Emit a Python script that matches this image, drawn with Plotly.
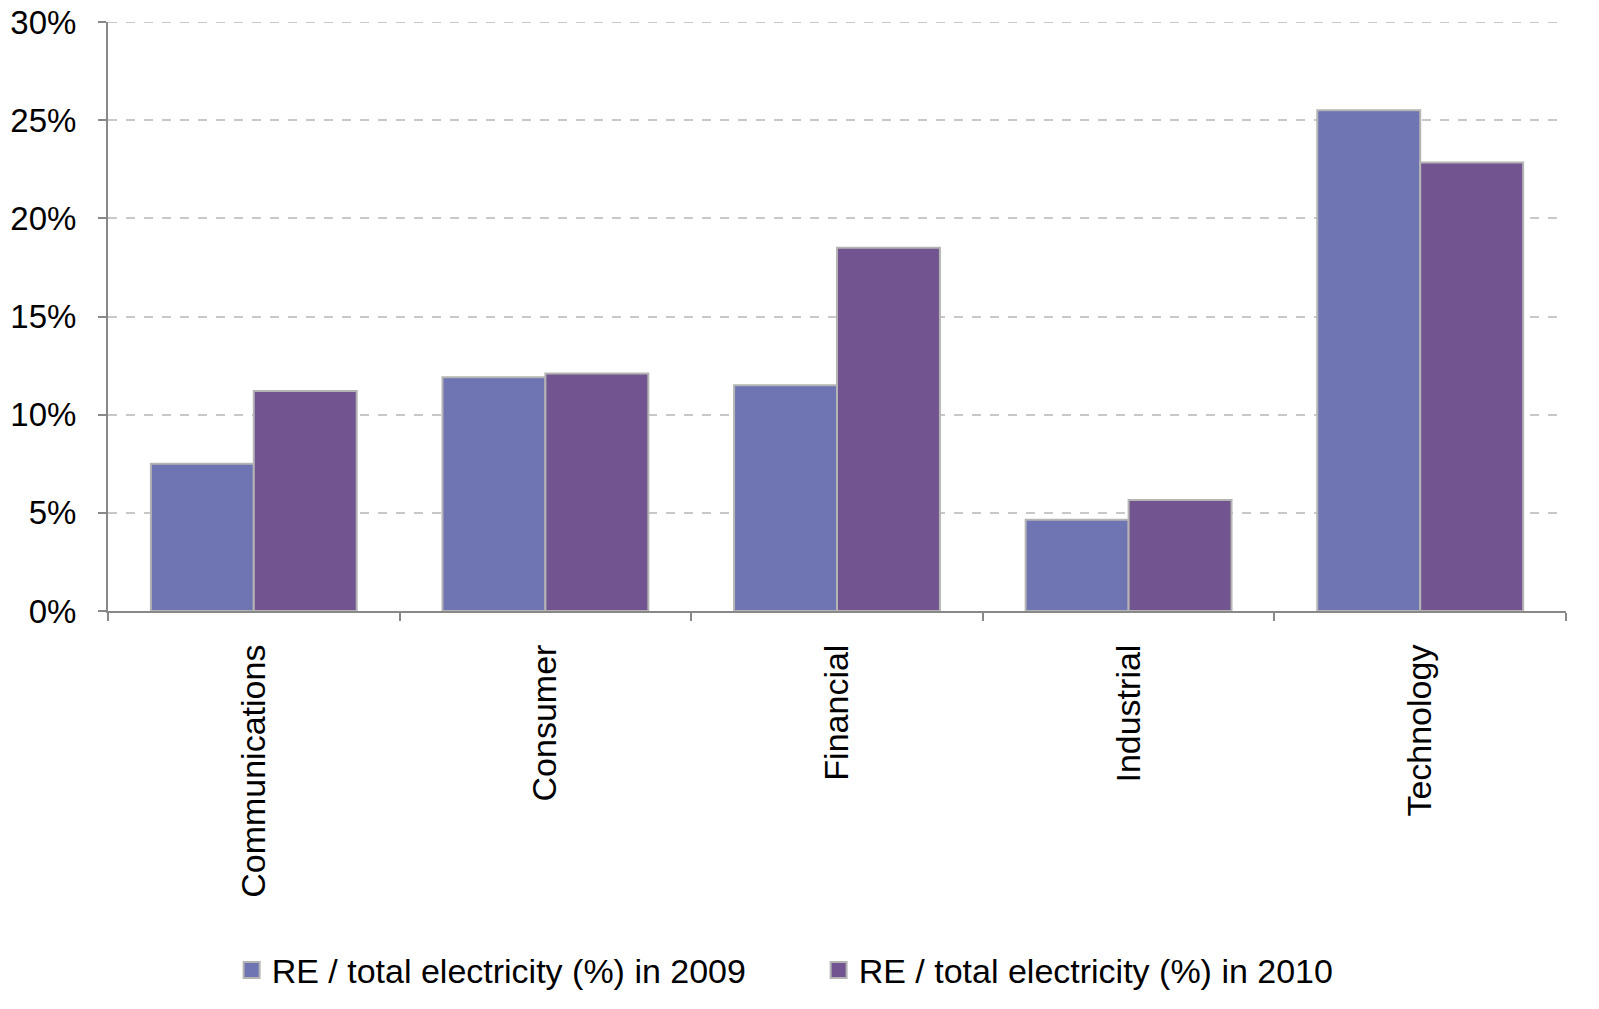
import plotly.graph_objects as go

categories = ["Communications", "Consumer", "Financial", "Industrial", "Technology"]
re_2009 = [7.5, 11.9, 11.5, 4.65, 25.5]
re_2010 = [11.2, 12.1, 18.5, 5.65, 22.85]
series_names = ["RE / total electricity (%) in 2009", "RE / total electricity (%) in 2010"]
series_colors = ["#6F74B2", "#725490"]
y_ticks = [0, 5, 10, 15, 20, 25, 30]
y_tick_text = [f"{v}%" for v in y_ticks]

FONT = "Liberation Sans, Arial, sans-serif"
EDGE = "#B4B4B4"
GRID = "#C8C8C8"

fig = go.Figure()
for vals, name, col in zip([re_2009, re_2010], series_names, series_colors):
    fig.add_trace(go.Bar(x=categories, y=vals, name=name, legendgroup=name, showlegend=False,
                         marker=dict(color=col, line=dict(color=EDGE, width=2))))
# legend entries with larger square swatches
for name, col in zip(series_names, series_colors):
    fig.add_trace(go.Scatter(x=[None], y=[None], mode="markers", name=name, legendgroup=name,
                             marker=dict(symbol="square", size=18, color=col,
                                         line=dict(color=EDGE, width=2))))

# top gridline at the maximum tick (plotly drops the grid line on the plot edge)
fig.add_shape(type="line", xref="paper", x0=0, x1=1, yref="y", y0=y_ticks[-1], y1=y_ticks[-1],
              line=dict(color=GRID, width=2, dash="dash"), layer="below")

fig.update_layout(
    width=1599, height=1009,
    margin=dict(l=108, r=33, t=22, b=398, autoexpand=False),
    paper_bgcolor="white", plot_bgcolor="white",
    barmode="group", bargap=0.294, bargroupgap=0,
    font=dict(family=FONT, size=34, color="black"),
    showlegend=True,
    legend=dict(orientation="h", x=0.0848, xanchor="left", y=-0.61, yanchor="middle",
                font=dict(size=34), entrywidth=542, traceorder="normal",
                itemclick=False, itemdoubleclick=False),
)
fig.update_xaxes(
    showline=True, linecolor="#888888", linewidth=2,
    ticks="outside", ticklen=8, tickcolor="#888888", tickwidth=2,
    tickson="boundaries", tickangle=-90, showgrid=False,
    tickfont=dict(size=34), automargin=False, ticklabelstandoff=18,
)
fig.update_yaxes(
    range=[0, 30], tickmode="array", tickvals=y_ticks, ticktext=y_tick_text,
    showline=True, linecolor="#888888", linewidth=2,
    ticks="outside", ticklen=8, tickcolor="#888888", tickwidth=2,
    showgrid=True, gridcolor=GRID, griddash="dash", gridwidth=2,
    zeroline=False, tickfont=dict(size=33), ticklabelstandoff=15, automargin=False,
)

fig.write_html("out.html", config={"displayModeBar": False},
               post_script="document.body.style.margin='0';document.body.style.overflow='hidden';")
